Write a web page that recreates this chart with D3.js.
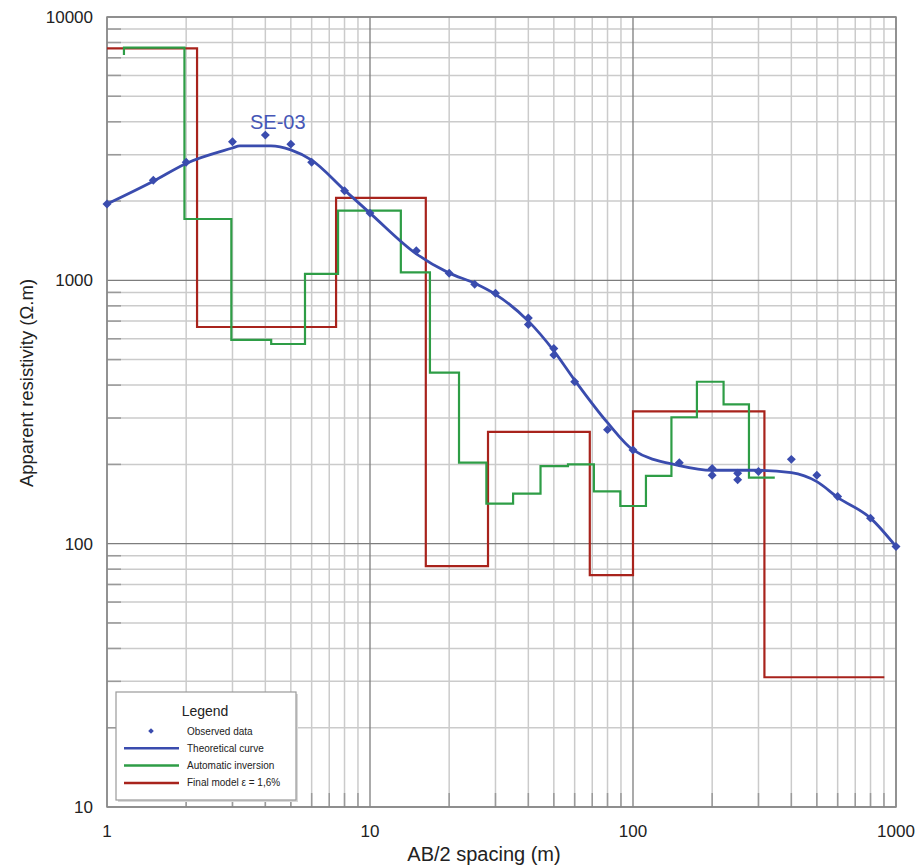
<!DOCTYPE html>
<html>
<head>
<meta charset="utf-8">
<script src="https://cdn.jsdelivr.net/npm/d3@7"></script>
<style>
  body { margin: 0; background: #fff; }
  svg { display: block; font-family: Arial, "Liberation Sans", sans-serif; }
</style>
</head>
<body>
<div class="chart-ves"></div>
<script>
// observed field data
const obsAb2 = [1, 1.5, 2, 3, 4, 5, 6, 8, 10, 15, 20, 25, 30, 40, 40, 50, 50, 60, 80, 100, 150, 200, 200, 250, 250, 300, 400, 500, 600, 800, 1000];
const obsRho = [1950, 2400, 2810, 3360, 3560, 3290, 2810, 2190, 1800, 1295, 1063, 966, 893, 720, 680, 551, 520, 412, 271, 227, 203, 193, 182, 185, 175, 188, 209, 182, 151, 125, 97.5];

// theoretical curve
const curveAb2 = [1, 1.5, 2, 3, 3.2, 4.2, 5, 6, 8, 10, 15, 20, 25, 30, 40, 50, 60, 80, 100, 150, 200, 300, 400, 500, 600, 800, 1000];
const curveRho = [1950, 2380, 2780, 3180, 3240, 3240, 3130, 2860, 2200, 1800, 1260, 1065, 975, 885, 700, 540, 418, 288, 227, 198, 190, 190, 186, 172, 150, 125, 97.5];

// automatic inversion (layer boundaries + resistivities)
const invStart = 7180;
const invDepth = [1.16, 1.97, 2.97, 4.21, 5.66, 7.56, 13.1, 16.9, 21.8, 27.7, 35, 44.5, 56.6, 71, 89.5, 112, 140, 175, 221, 276, 346];
const invRho = [7650, 1710, 594, 573, 1058, 1841, 1073, 446, 203, 142, 155, 197, 200, 158, 139, 181, 302, 412, 338, 178];

// final model
const modelDepth = [1, 2.2, 7.43, 16.3, 28.1, 68.5, 100, 316, 903];
const modelRho = [7600, 665, 2056, 82.2, 266, 76, 318, 31.1];

const xTicks = [1, 10, 100, 1000];
const yTicks = [10, 100, 1000, 10000];

const legendItems = [`Observed data`, `Theoretical curve`, `Automatic inversion`, `Final model ε = 1,6%`];

const blue = `#3a4cae`;
const green = `#2e9d46`;
const red = `#a8231c`;

const margin = { top: 17, right: 24, bottom: 60, left: 107 };
const width = 920 - margin.left - margin.right;
const height = 867 - margin.top - margin.bottom;

const x = d3.scaleLog().domain([1, 1000]).range([0, width]);
const y = d3.scaleLog().domain([10, 10000]).range([height, 0]);

const svg = d3.select(`.chart-ves`).append(`svg`)
    .attr(`width`, 920)
    .attr(`height`, 867)
  .append(`g`)
    .attr(`transform`, `translate(${margin.left}, ${margin.top})`);

// minor values inside each decade
const minors = (lo, hi) => {
  const out = [];
  for (let p = lo; p < hi; p *= 10) {
    for (let k = 2; k <= 9; k++) out.push(p * k);
  }
  return out;
};
const xMinor = minors(1, 1000);
const yMinor = minors(10, 10000);

// grid
svg.append(`g`).selectAll(`line`)
  .data(xMinor)
  .enter().append(`line`)
    .attr(`x1`, d => x(d)).attr(`x2`, d => x(d))
    .attr(`y1`, 0).attr(`y2`, height)
    .attr(`stroke`, `#cbcbcb`)
    .attr(`stroke-width`, 1.5);

svg.append(`g`).selectAll(`line`)
  .data(yMinor)
  .enter().append(`line`)
    .attr(`x1`, 0).attr(`x2`, width)
    .attr(`y1`, d => y(d)).attr(`y2`, d => y(d))
    .attr(`stroke`, `#cbcbcb`)
    .attr(`stroke-width`, 1.5);

// short ticks along left and bottom
svg.append(`g`).selectAll(`line`)
  .data(xMinor)
  .enter().append(`line`)
    .attr(`x1`, d => x(d)).attr(`x2`, d => x(d))
    .attr(`y1`, height).attr(`y2`, height - 14)
    .attr(`stroke`, `#9a9a9a`)
    .attr(`stroke-width`, 1.5);

svg.append(`g`).selectAll(`line`)
  .data(yMinor)
  .enter().append(`line`)
    .attr(`x1`, 0).attr(`x2`, 14)
    .attr(`y1`, d => y(d)).attr(`y2`, d => y(d))
    .attr(`stroke`, `#9a9a9a`)
    .attr(`stroke-width`, 1.5);

svg.append(`g`).selectAll(`line`)
  .data(xTicks)
  .enter().append(`line`)
    .attr(`x1`, d => x(d)).attr(`x2`, d => x(d))
    .attr(`y1`, 0).attr(`y2`, height)
    .attr(`stroke`, `#7d7d7d`)
    .attr(`stroke-width`, 1.3);

svg.append(`g`).selectAll(`line`)
  .data(yTicks)
  .enter().append(`line`)
    .attr(`x1`, 0).attr(`x2`, width)
    .attr(`y1`, d => y(d)).attr(`y2`, d => y(d))
    .attr(`stroke`, `#7d7d7d`)
    .attr(`stroke-width`, 1.3);

svg.append(`rect`)
  .attr(`width`, width)
  .attr(`height`, height)
  .attr(`fill`, `none`)
  .attr(`stroke`, `#8a8a8a`)
  .attr(`stroke-width`, 1.5);

// tick labels
svg.append(`g`).selectAll(`text`)
  .data(xTicks)
  .enter().append(`text`)
    .attr(`x`, d => x(d))
    .attr(`y`, height + 30)
    .attr(`text-anchor`, `middle`)
    .attr(`font-size`, 17)
    .attr(`fill`, `#222`)
    .text(d => d);

svg.append(`g`).selectAll(`text`)
  .data(yTicks)
  .enter().append(`text`)
    .attr(`x`, -14)
    .attr(`y`, d => y(d))
    .attr(`dy`, `0.35em`)
    .attr(`text-anchor`, `end`)
    .attr(`font-size`, 17)
    .attr(`fill`, `#222`)
    .text(d => d);

// axis titles
svg.append(`text`)
  .attr(`x`, 377)
  .attr(`y`, height + 54)
  .attr(`text-anchor`, `middle`)
  .attr(`font-size`, 20)
  .attr(`fill`, `#222`)
  .text(`AB/2 spacing (m)`);

svg.append(`text`)
  .attr(`transform`, `translate(-74, 366) rotate(-90)`)
  .attr(`text-anchor`, `middle`)
  .attr(`font-size`, 18.5)
  .attr(`fill`, `#222`)
  .text(`Apparent resistivity (Ω.m)`);

// step paths from layer arrays
const steps = (depth, rho) => {
  const pts = [];
  rho.forEach((r, i) => {
    pts.push([depth[i], r]);
    pts.push([depth[i + 1], r]);
  });
  return pts;
};

const line = d3.line()
  .x(d => x(d[0]))
  .y(d => y(d[1]));

svg.append(`path`)
  .datum(steps(modelDepth, modelRho))
  .attr(`d`, line)
  .attr(`fill`, `none`)
  .attr(`stroke`, red)
  .attr(`stroke-width`, 2.2);

svg.append(`path`)
  .datum([[invDepth[0], invStart]].concat(steps(invDepth, invRho)))
  .attr(`d`, line)
  .attr(`fill`, `none`)
  .attr(`stroke`, green)
  .attr(`stroke-width`, 2.2);

svg.append(`path`)
  .datum(curveAb2.map((d, i) => [d, curveRho[i]]))
  .attr(`d`, line.curve(d3.curveMonotoneX))
  .attr(`fill`, `none`)
  .attr(`stroke`, blue)
  .attr(`stroke-width`, 2.8);

const diamond = d3.symbol().type(d3.symbolSquare).size(40);

svg.append(`g`).selectAll(`path`)
  .data(obsAb2.map((d, i) => [d, obsRho[i]]))
  .enter().append(`path`)
    .attr(`d`, diamond)
    .attr(`transform`, d => `translate(${x(d[0])}, ${y(d[1])}) rotate(45)`)
    .attr(`fill`, blue);

svg.append(`text`)
  .attr(`x`, 143)
  .attr(`y`, 112)
  .attr(`font-size`, 20)
  .attr(`fill`, `#4656b6`)
  .text(`SE-03`);

// legend
const lg = svg.append(`g`)
  .attr(`transform`, `translate(9, 675)`);

lg.append(`rect`)
  .attr(`x`, 2).attr(`y`, 2)
  .attr(`width`, 180).attr(`height`, 108)
  .attr(`fill`, `#d8d8d8`);

lg.append(`rect`)
  .attr(`width`, 180).attr(`height`, 108)
  .attr(`fill`, `#fff`)
  .attr(`stroke`, `#9a9a9a`)
  .attr(`stroke-width`, 1.2);

lg.append(`text`)
  .attr(`x`, 89)
  .attr(`y`, 24)
  .attr(`text-anchor`, `middle`)
  .attr(`font-size`, 14)
  .attr(`fill`, `#222`)
  .text(`Legend`);

const rowY = i => 39 + i * 17.3;
const legendColors = [blue, blue, green, red];

lg.selectAll(`.item`)
  .data(legendItems)
  .enter().append(`text`)
    .attr(`class`, `item`)
    .attr(`x`, 71)
    .attr(`y`, (d, i) => rowY(i))
    .attr(`dy`, `0.35em`)
    .attr(`font-size`, 10)
    .attr(`fill`, `#222`)
    .text(d => d);

lg.append(`path`)
  .attr(`d`, d3.symbol().type(d3.symbolSquare).size(16))
  .attr(`transform`, `translate(35, ${rowY(0)}) rotate(45)`)
  .attr(`fill`, blue);

lg.selectAll(`.swatch`)
  .data(legendColors.slice(1))
  .enter().append(`line`)
    .attr(`class`, `swatch`)
    .attr(`x1`, 8).attr(`x2`, 63)
    .attr(`y1`, (d, i) => rowY(i + 1))
    .attr(`y2`, (d, i) => rowY(i + 1))
    .attr(`stroke`, d => d)
    .attr(`stroke-width`, 2.5);
</script>
</body>
</html>
